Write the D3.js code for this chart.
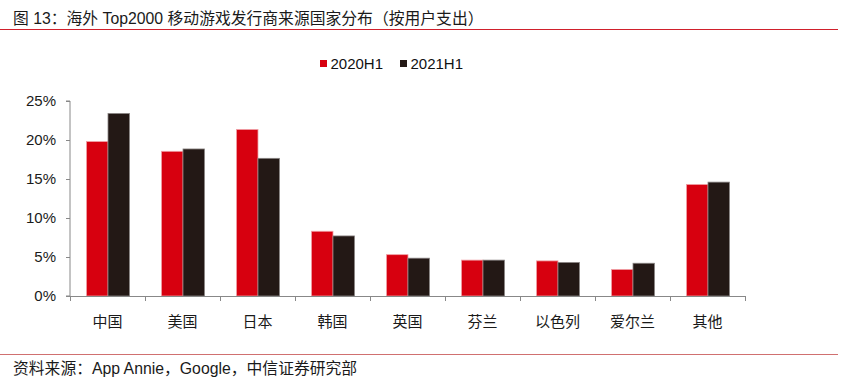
<!DOCTYPE html>
<html><head><meta charset="utf-8">
<script src="https://cdn.jsdelivr.net/npm/d3@7"></script>
<style>body{margin:0;background:#fff}svg{display:block}text{font-family:"Liberation Sans","Noto Sans CJK SC",sans-serif}</style>
</head><body>
<script>
const categories = ["中国","美国","日本","韩国","英国","芬兰","以色列","爱尔兰","其他"];
const series2020H1 = [19.8, 18.55, 21.35, 8.3, 5.3, 4.6, 4.5, 3.4, 14.3];
const series2021H1 = [23.4, 18.85, 17.65, 7.7, 4.85, 4.6, 4.3, 4.2, 14.6];
const seriesNames = ["2020H1","2021H1"];
const yTicks = [0,5,10,15,20,25];

const W=841,H=378;
const svg=d3.select("body").append("svg").attr("width",W).attr("height",H);
const colors={"2020H1":"#d7000f","2021H1":"#231815"};
const strokes={"2020H1":"#f0a0a6","2021H1":"#8a8584"};

svg.append("text").attr("x",13).attr("y",24).attr("font-size",15.8).attr("fill","#1a1a1a")
 .text("图 13：海外 Top2000 移动游戏发行商来源国家分布（按用户支出）");
svg.append("line").attr("x1",0).attr("x2",838).attr("y1",29.5).attr("y2",29.5).attr("stroke","#d0202c").attr("stroke-width",1);
svg.append("line").attr("x1",0).attr("x2",838).attr("y1",354.5).attr("y2",354.5).attr("stroke","#d07070").attr("stroke-width",1.2);
svg.append("text").attr("x",13).attr("y",374).attr("font-size",15.8).attr("fill","#1a1a1a")
 .text("资料来源：App Annie，Google，中信证券研究部");

const x=d3.scaleBand().domain(categories).range([70,745]).paddingInner(0).paddingOuter(0);
const y=d3.scaleLinear().domain([0,25]).range([296,101]);
const x1=d3.scaleBand().domain(seriesNames).range([16.5,59.5]);

const data=categories.map((c,i)=>({c,vals:[{k:"2020H1",v:series2020H1[i]},{k:"2021H1",v:series2021H1[i]}]}));
const g=svg.append("g");
g.selectAll("g.grp").data(data).join("g").attr("transform",d=>`translate(${x(d.c)},0)`)
 .selectAll("rect").data(d=>d.vals).join("rect")
 .attr("x",d=>x1(d.k)).attr("width",x1.bandwidth())
 .attr("y",d=>y(d.v)).attr("height",d=>y(0)-y(d.v))
 .attr("fill",d=>colors[d.k]).attr("stroke",d=>strokes[d.k]).attr("stroke-width",0.8);

const yAxis=svg.append("g").attr("transform","translate(70,0)")
 .call(d3.axisLeft(y).tickValues(yTicks).tickFormat(d=>d+"%").tickSize(4).tickPadding(10));
yAxis.select(".domain").attr("stroke","#888").attr("d","M-4,296H0V101H-4");
yAxis.selectAll(".tick line").attr("stroke","#888");
yAxis.selectAll(".tick text").attr("font-size",15).attr("fill","#1a1a1a").attr("font-family","Liberation Sans, sans-serif");

const xAxis=svg.append("g").attr("transform","translate(0,296)")
 .call(d3.axisBottom(x).tickSize(0).tickPadding(20));
xAxis.select(".domain").attr("stroke","#888");
xAxis.selectAll(".tick text").attr("font-size",15).attr("fill","#1a1a1a").attr("dy","0.71em").attr("y",20);
xAxis.selectAll("line.bt").data(d3.range(categories.length+1)).join("line").attr("class","bt")
 .attr("x1",i=>70+i*x.step()+0.5).attr("x2",i=>70+i*x.step()+0.5).attr("y1",0).attr("y2",5).attr("stroke","#888");

const lg=svg.append("g");
seriesNames.forEach((s,i)=>{
  const ox=[320,400][i];
  lg.append("rect").attr("x",ox).attr("y",60).attr("width",7).attr("height",7).attr("fill",colors[s]);
  lg.append("text").attr("x",ox+10.5).attr("y",69).attr("font-size",15).attr("fill","#111").text(s);
});
</script>
</body></html>
